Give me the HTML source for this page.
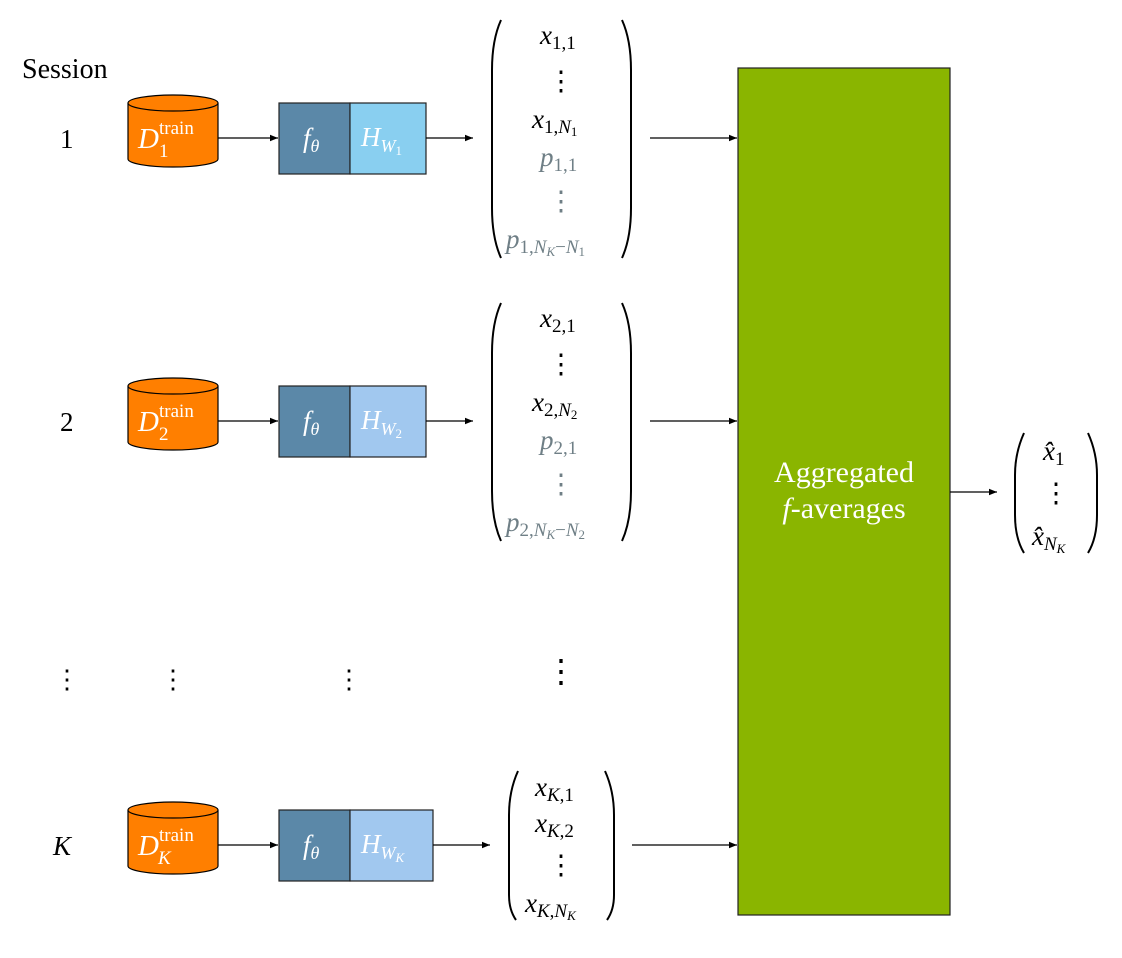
<!DOCTYPE html>
<html><head><meta charset="utf-8"><style>
html,body{margin:0;padding:0;background:#fff;}
svg{display:block;}
text{font-family:"Liberation Serif",serif;}
.m{font-style:italic;}
.w{fill:#fff;}
.g{fill:#6f7f86;}
</style></head><body>
<svg width="1122" height="958" viewBox="0 0 1122 958" xmlns="http://www.w3.org/2000/svg">
<defs><marker id="ah" viewBox="0 0 10 10" refX="10" refY="5" markerWidth="8" markerHeight="8" markerUnits="userSpaceOnUse" orient="auto"><path d="M0,1 L10,5 L0,9 z" fill="#000"/></marker></defs>

<text x="22" y="78" font-size="28">Session</text>

<!-- Row 1 -->
<g>
<text x="60" y="148" font-size="27">1</text>
<g>
<path d="M128,103 L128,159 A45,8 0 0 0 218,159 L218,103" fill="#FF7F00" stroke="#000" stroke-width="1.2"/>
<ellipse cx="173" cy="103" rx="45" ry="8" fill="#FF7F00" stroke="#000" stroke-width="1.2"/>
<text x="138" y="148" font-size="29" class="w m">D</text><text x="159" y="134" font-size="19" class="w">train</text><text x="159" y="157" font-size="19" class="w">1</text>
</g>
<line x1="218" y1="138" x2="278" y2="138" stroke="#000" stroke-width="1.2" marker-end="url(#ah)"/>
<rect x="279" y="103" width="71" height="71" fill="#5B88A8" stroke="#222" stroke-width="1.2"/>
<rect x="350" y="103" width="76" height="71" fill="#89CFF0" stroke="#222" stroke-width="1.2"/>
<text x="303" y="147" font-size="27" class="w m">f<tspan font-size="18" dy="5">θ</tspan></text>
<text x="361" y="146" font-size="27" class="w m">H<tspan font-size="18" dy="6">W</tspan><tspan font-size="13" dy="3" font-style="normal">1</tspan></text>
<line x1="426" y1="138" x2="473" y2="138" stroke="#000" stroke-width="1.2" marker-end="url(#ah)"/>
<g>
<path d="M501,20 Q492,40 492,70 L492,208 Q492,238 501,258" fill="none" stroke="#000" stroke-width="2"/>
<path d="M622,20 Q631,40 631,70 L631,208 Q631,238 622,258" fill="none" stroke="#000" stroke-width="2"/>
<text x="540" y="44" font-size="27" class="m">x<tspan font-size="19" dy="5" font-style="normal">1,1</tspan></text>
<text x="561" y="90" font-size="27" text-anchor="middle">⋮</text>
<text x="532" y="128" font-size="27" class="m">x<tspan font-size="19" dy="5" font-style="normal">1,</tspan><tspan font-size="19">N</tspan><tspan font-size="13" dy="3" font-style="normal">1</tspan></text>
<text x="540" y="166" font-size="27" class="m g">p<tspan font-size="19" dy="5" font-style="normal">1,1</tspan></text>
<text x="561" y="210" font-size="27" text-anchor="middle" class="g">⋮</text>
<text x="506" y="248" font-size="27" class="m g">p<tspan font-size="19" dy="5" font-style="normal">1,</tspan><tspan font-size="19">N</tspan><tspan font-size="13" dy="3">K</tspan><tspan font-size="19" dy="-3" font-style="normal">−</tspan><tspan font-size="19">N</tspan><tspan font-size="13" dy="3" font-style="normal">1</tspan></text>
</g>
<line x1="650" y1="138" x2="737" y2="138" stroke="#000" stroke-width="1.2" marker-end="url(#ah)"/>
</g>

<!-- Row 2 -->
<g>
<text x="60" y="431" font-size="27">2</text>
<g>
<path d="M128,386 L128,442 A45,8 0 0 0 218,442 L218,386" fill="#FF7F00" stroke="#000" stroke-width="1.2"/>
<ellipse cx="173" cy="386" rx="45" ry="8" fill="#FF7F00" stroke="#000" stroke-width="1.2"/>
<text x="138" y="431" font-size="29" class="w m">D</text><text x="159" y="417" font-size="19" class="w">train</text><text x="159" y="440" font-size="19" class="w">2</text>
</g>
<line x1="218" y1="421" x2="278" y2="421" stroke="#000" stroke-width="1.2" marker-end="url(#ah)"/>
<rect x="279" y="386" width="71" height="71" fill="#5B88A8" stroke="#222" stroke-width="1.2"/>
<rect x="350" y="386" width="76" height="71" fill="#A1C8EF" stroke="#222" stroke-width="1.2"/>
<text x="303" y="430" font-size="27" class="w m">f<tspan font-size="18" dy="5">θ</tspan></text>
<text x="361" y="429" font-size="27" class="w m">H<tspan font-size="18" dy="6">W</tspan><tspan font-size="13" dy="3" font-style="normal">2</tspan></text>
<line x1="426" y1="421" x2="473" y2="421" stroke="#000" stroke-width="1.2" marker-end="url(#ah)"/>
<g>
<path d="M501,303 Q492,323 492,353 L492,491 Q492,521 501,541" fill="none" stroke="#000" stroke-width="2"/>
<path d="M622,303 Q631,323 631,353 L631,491 Q631,521 622,541" fill="none" stroke="#000" stroke-width="2"/>
<text x="540" y="327" font-size="27" class="m">x<tspan font-size="19" dy="5" font-style="normal">2,1</tspan></text>
<text x="561" y="373" font-size="27" text-anchor="middle">⋮</text>
<text x="532" y="411" font-size="27" class="m">x<tspan font-size="19" dy="5" font-style="normal">2,</tspan><tspan font-size="19">N</tspan><tspan font-size="13" dy="3" font-style="normal">2</tspan></text>
<text x="540" y="449" font-size="27" class="m g">p<tspan font-size="19" dy="5" font-style="normal">2,1</tspan></text>
<text x="561" y="493" font-size="27" text-anchor="middle" class="g">⋮</text>
<text x="506" y="531" font-size="27" class="m g">p<tspan font-size="19" dy="5" font-style="normal">2,</tspan><tspan font-size="19">N</tspan><tspan font-size="13" dy="3">K</tspan><tspan font-size="19" dy="-3" font-style="normal">−</tspan><tspan font-size="19">N</tspan><tspan font-size="13" dy="3" font-style="normal">2</tspan></text>
</g>
<line x1="650" y1="421" x2="737" y2="421" stroke="#000" stroke-width="1.2" marker-end="url(#ah)"/>
</g>

<!-- ellipsis row -->
<g>
<text x="67" y="688" font-size="26" text-anchor="middle">⋮</text>
<text x="173" y="688" font-size="26" text-anchor="middle">⋮</text>
<text x="349" y="688" font-size="26" text-anchor="middle">⋮</text>
<text x="561" y="682" font-size="32" text-anchor="middle">⋮</text>
</g>

<!-- Row K -->
<g>
<text x="53" y="855" font-size="27" class="m">K</text>
<g>
<path d="M128,810 L128,866 A45,8 0 0 0 218,866 L218,810" fill="#FF7F00" stroke="#000" stroke-width="1.2"/>
<ellipse cx="173" cy="810" rx="45" ry="8" fill="#FF7F00" stroke="#000" stroke-width="1.2"/>
<text x="138" y="855" font-size="29" class="w m">D</text><text x="159" y="841" font-size="19" class="w">train</text><text x="158" y="864" font-size="19" class="w m">K</text>
</g>
<line x1="218" y1="845" x2="278" y2="845" stroke="#000" stroke-width="1.2" marker-end="url(#ah)"/>
<rect x="279" y="810" width="71" height="71" fill="#5B88A8" stroke="#222" stroke-width="1.2"/>
<rect x="350" y="810" width="83" height="71" fill="#A1C8EF" stroke="#222" stroke-width="1.2"/>
<text x="303" y="854" font-size="27" class="w m">f<tspan font-size="18" dy="5">θ</tspan></text>
<text x="361" y="853" font-size="27" class="w m">H<tspan font-size="18" dy="6">W</tspan><tspan font-size="13" dy="3">K</tspan></text>
<line x1="433" y1="845" x2="490" y2="845" stroke="#000" stroke-width="1.2" marker-end="url(#ah)"/>
<g>
<path d="M518,771 Q509,791 509,815 L509,895 Q509,910 516,920" fill="none" stroke="#000" stroke-width="2"/>
<path d="M605,771 Q614,791 614,815 L614,895 Q614,910 607,920" fill="none" stroke="#000" stroke-width="2"/>
<text x="535" y="796" font-size="27" class="m">x<tspan font-size="19" dy="5">K</tspan><tspan font-size="19" font-style="normal">,1</tspan></text>
<text x="535" y="832" font-size="27" class="m">x<tspan font-size="19" dy="5">K</tspan><tspan font-size="19" font-style="normal">,2</tspan></text>
<text x="561" y="874" font-size="27" text-anchor="middle">⋮</text>
<text x="525" y="912" font-size="27" class="m">x<tspan font-size="19" dy="5">K</tspan><tspan font-size="19" font-style="normal">,</tspan><tspan font-size="19">N</tspan><tspan font-size="13" dy="3">K</tspan></text>
</g>
<line x1="632" y1="845" x2="737" y2="845" stroke="#000" stroke-width="1.2" marker-end="url(#ah)"/>
</g>

<!-- aggregator -->
<g>
<rect x="738" y="68" width="212" height="847" fill="#8AB500" stroke="#222" stroke-width="1.2"/>
<text x="844" y="482" font-size="30" class="w" text-anchor="middle">Aggregated</text>
<text x="844" y="518" font-size="30" class="w" text-anchor="middle"><tspan class="m">f</tspan>-averages</text>
</g>
<line x1="950" y1="492" x2="997" y2="492" stroke="#000" stroke-width="1.2" marker-end="url(#ah)"/>

<!-- output -->
<g>
<path d="M1024,433 Q1015,453 1015,475 L1015,515 Q1015,538 1024,553" fill="none" stroke="#000" stroke-width="2"/>
<path d="M1088,433 Q1097,453 1097,475 L1097,515 Q1097,538 1088,553" fill="none" stroke="#000" stroke-width="2"/>
<text x="1043" y="460" font-size="27" class="m">x̂<tspan font-size="19" dy="5" font-style="normal">1</tspan></text>
<text x="1056" y="502" font-size="27" text-anchor="middle">⋮</text>
<text x="1032" y="545" font-size="27" class="m">x̂<tspan font-size="19" dy="5">N</tspan><tspan font-size="13" dy="3">K</tspan></text>
</g>
</svg>
</body></html>
